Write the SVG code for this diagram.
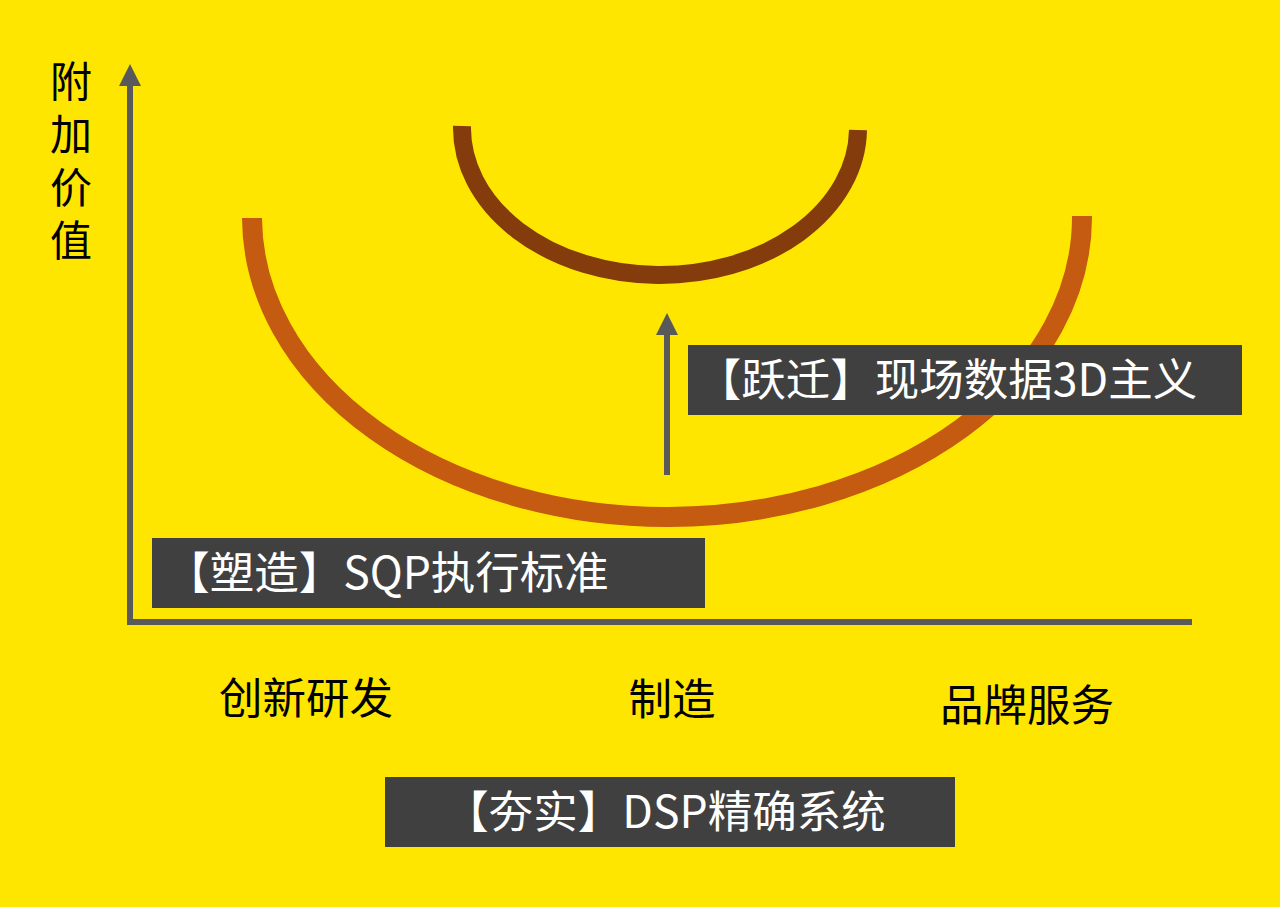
<svg xmlns="http://www.w3.org/2000/svg" width="1280" height="907" viewBox="0 0 1280 907">
  <style>
    .axis { stroke: #595959; stroke-width: 6; fill: none; }
    .box { fill: #404040; }
    .boxtext { fill: #FFFFFF; font-family: "Noto Sans CJK SC", "Noto Sans", sans-serif; font-size: 44.5px; }
    .label { fill: #000000; font-family: "Noto Sans CJK SC", "Noto Sans", sans-serif; font-size: 43.5px; }
  </style>
  <defs>
    <marker id="arrow" markerUnits="userSpaceOnUse" markerWidth="22" markerHeight="22" viewBox="0 0 22 22" refX="2" refY="11" orient="auto">
      <path d="M0,0 L22,11 L0,22 Z" fill="#595959"/>
    </marker>
  </defs>
  <rect x="0" y="0" width="1280" height="907" fill="#FFE600"/>

  <g id="curves">
    <path id="big-curve" d="M 252 218 A 415 300 0 0 0 1082 216" fill="none" stroke="#C55A11" stroke-width="20"/>
    <path id="small-curve" d="M 462 126 A 198 147 0 0 0 858 130" fill="none" stroke="#843C0C" stroke-width="18"/>
  </g>

  <g id="connectors">
    <line class="axis" x1="130" y1="625" x2="130" y2="84" marker-end="url(#arrow)"/>
    <line class="axis" x1="127" y1="622" x2="1192" y2="622"/>
    <line class="axis" x1="667" y1="475" x2="667" y2="333" marker-end="url(#arrow)"/>
  </g>

  <g id="y-label">
    <text class="label" x="71" y="60" style="writing-mode: vertical-rl; letter-spacing: 11px; font-size: 42px;">附加价值</text>
  </g>

  <g id="x-labels">
    <text class="label" x="306" y="714" text-anchor="middle">创新研发</text>
    <text class="label" x="672" y="715" text-anchor="middle">制造</text>
    <text class="label" x="1027" y="721" text-anchor="middle">品牌服务</text>
  </g>

  <g id="node-leap">
    <rect class="box" x="688" y="345" width="554" height="70"/>
    <text class="boxtext" x="947" y="396" text-anchor="middle">【跃迁】现场数据3D主义</text>
  </g>

  <g id="node-shape">
    <rect class="box" x="152" y="538" width="553" height="70"/>
    <text class="boxtext" x="387" y="589" text-anchor="middle">【塑造】SQP执行标准</text>
  </g>

  <g id="node-base">
    <rect class="box" x="385" y="777" width="570" height="70"/>
    <text class="boxtext" x="665" y="828" text-anchor="middle">【夯实】DSP精确系统</text>
  </g>
</svg>
